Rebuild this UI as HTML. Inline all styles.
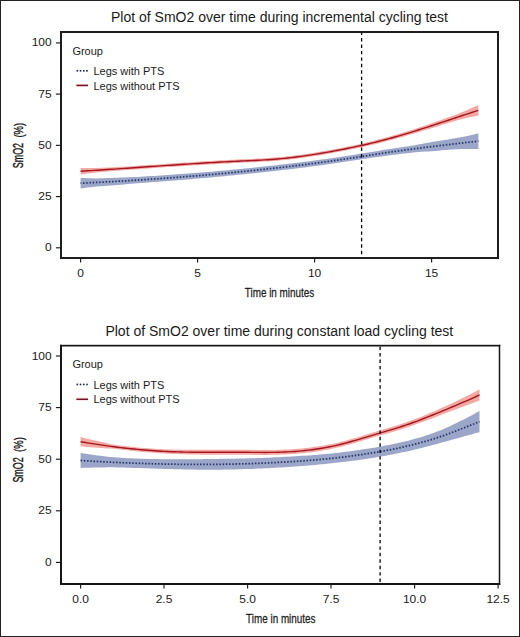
<!DOCTYPE html>
<html><head><meta charset="utf-8"><style>
html,body{margin:0;padding:0;background:#fff;}
svg{display:block;}
text{font-family:"Liberation Sans", sans-serif;fill:#1a1a1a;}
</style></head><body>
<svg width="520" height="637" viewBox="0 0 520 637">
<rect x="0" y="0" width="520" height="637" fill="#fff"/>
<path d="M80.60,177.93 L83.94,178.10 L87.29,178.24 L90.63,178.34 L93.97,178.39 L97.31,178.38 L100.66,178.31 L104.00,178.21 L107.34,178.09 L110.69,177.96 L114.03,177.83 L117.37,177.69 L120.71,177.57 L124.06,177.45 L127.40,177.33 L130.74,177.20 L134.09,177.05 L137.43,176.88 L140.77,176.70 L144.11,176.50 L147.46,176.30 L150.80,176.10 L154.14,175.88 L157.49,175.67 L160.83,175.44 L164.17,175.22 L167.51,174.99 L170.86,174.75 L174.20,174.51 L177.54,174.27 L180.89,174.03 L184.23,173.78 L187.57,173.53 L190.91,173.28 L194.26,173.02 L197.60,172.75 L200.94,172.49 L204.29,172.22 L207.63,171.94 L210.97,171.66 L214.31,171.38 L217.66,171.09 L221.00,170.79 L224.34,170.49 L227.69,170.19 L231.03,169.87 L234.37,169.56 L237.71,169.23 L241.06,168.90 L244.40,168.57 L247.74,168.23 L251.09,167.89 L254.43,167.54 L257.77,167.19 L261.11,166.84 L264.46,166.48 L267.80,166.12 L271.14,165.75 L274.49,165.38 L277.83,165.00 L281.17,164.62 L284.51,164.23 L287.86,163.84 L291.20,163.45 L294.54,163.05 L297.89,162.64 L301.23,162.23 L304.57,161.81 L307.91,161.39 L311.26,160.96 L314.60,160.52 L317.94,160.07 L321.29,159.62 L324.63,159.16 L327.97,158.70 L331.31,158.23 L334.66,157.74 L338.00,157.25 L341.34,156.75 L344.69,156.24 L348.03,155.72 L351.37,155.20 L354.71,154.66 L358.06,154.12 L361.40,153.58 L364.74,153.04 L368.09,152.50 L371.43,151.96 L374.77,151.42 L378.11,150.89 L381.46,150.36 L384.80,149.84 L388.14,149.31 L391.49,148.79 L394.83,148.27 L398.17,147.75 L401.51,147.23 L404.86,146.71 L408.20,146.18 L411.54,145.66 L414.89,145.13 L418.23,144.59 L421.57,143.98 L424.91,143.30 L428.26,142.63 L431.60,142.03 L434.94,141.47 L438.29,140.95 L441.63,140.43 L444.97,139.92 L448.31,139.40 L451.66,138.87 L455.00,138.31 L458.34,137.71 L461.69,137.06 L465.03,136.38 L468.37,135.67 L471.71,134.92 L475.06,134.16 L478.40,133.37 L478.40,148.97 L475.06,148.93 L471.71,148.90 L468.37,148.91 L465.03,148.95 L461.69,149.02 L458.34,149.14 L455.00,149.31 L451.66,149.53 L448.31,149.78 L444.97,150.05 L441.63,150.34 L438.29,150.63 L434.94,150.92 L431.60,151.19 L428.26,151.42 L424.91,151.59 L421.57,151.76 L418.23,152.01 L414.89,152.34 L411.54,152.69 L408.20,153.05 L404.86,153.43 L401.51,153.82 L398.17,154.22 L394.83,154.64 L391.49,155.07 L388.14,155.51 L384.80,155.96 L381.46,156.42 L378.11,156.89 L374.77,157.37 L371.43,157.86 L368.09,158.35 L364.74,158.85 L361.40,159.34 L358.06,159.85 L354.71,160.35 L351.37,160.85 L348.03,161.36 L344.69,161.86 L341.34,162.36 L338.00,162.85 L334.66,163.34 L331.31,163.83 L327.97,164.30 L324.63,164.76 L321.29,165.22 L317.94,165.67 L314.60,166.12 L311.26,166.56 L307.91,166.99 L304.57,167.41 L301.23,167.83 L297.89,168.24 L294.54,168.65 L291.20,169.05 L287.86,169.44 L284.51,169.83 L281.17,170.22 L277.83,170.60 L274.49,170.98 L271.14,171.35 L267.80,171.72 L264.46,172.08 L261.11,172.44 L257.77,172.79 L254.43,173.14 L251.09,173.49 L247.74,173.83 L244.40,174.17 L241.06,174.50 L237.71,174.83 L234.37,175.16 L231.03,175.48 L227.69,175.81 L224.34,176.13 L221.00,176.44 L217.66,176.76 L214.31,177.07 L210.97,177.38 L207.63,177.68 L204.29,177.99 L200.94,178.29 L197.60,178.58 L194.26,178.87 L190.91,179.16 L187.57,179.45 L184.23,179.73 L180.89,180.00 L177.54,180.28 L174.20,180.54 L170.86,180.81 L167.51,181.07 L164.17,181.32 L160.83,181.58 L157.49,181.83 L154.14,182.07 L150.80,182.32 L147.46,182.56 L144.11,182.81 L140.77,183.05 L137.43,183.29 L134.09,183.55 L130.74,183.82 L127.40,184.10 L124.06,184.38 L120.71,184.65 L117.37,184.92 L114.03,185.17 L110.69,185.41 L107.34,185.65 L104.00,185.90 L100.66,186.15 L97.31,186.43 L93.97,186.76 L90.63,187.14 L87.29,187.58 L83.94,188.04 L80.60,188.53Z" fill="#9ba6c9" stroke="none"/>
<path d="M80.60,167.92 L83.94,167.99 L87.29,168.04 L90.63,168.06 L93.97,168.04 L97.31,167.97 L100.66,167.85 L104.00,167.72 L107.34,167.58 L110.69,167.43 L114.03,167.25 L117.37,167.07 L120.71,166.87 L124.06,166.66 L127.40,166.46 L130.74,166.24 L134.09,166.03 L137.43,165.80 L140.77,165.57 L144.11,165.34 L147.46,165.11 L150.80,164.87 L154.14,164.64 L157.49,164.41 L160.83,164.18 L164.17,163.95 L167.51,163.72 L170.86,163.50 L174.20,163.27 L177.54,163.04 L180.89,162.82 L184.23,162.60 L187.57,162.38 L190.91,162.16 L194.26,161.95 L197.60,161.74 L200.94,161.53 L204.29,161.33 L207.63,161.12 L210.97,160.93 L214.31,160.73 L217.66,160.54 L221.00,160.36 L224.34,160.18 L227.69,160.00 L231.03,159.83 L234.37,159.67 L237.71,159.51 L241.06,159.35 L244.40,159.20 L247.74,159.05 L251.09,158.90 L254.43,158.74 L257.77,158.58 L261.11,158.40 L264.46,158.21 L267.80,158.01 L271.14,157.78 L274.49,157.54 L277.83,157.27 L281.17,156.97 L284.51,156.64 L287.86,156.29 L291.20,155.92 L294.54,155.52 L297.89,155.09 L301.23,154.65 L304.57,154.18 L307.91,153.69 L311.26,153.19 L314.60,152.66 L317.94,152.12 L321.29,151.56 L324.63,150.98 L327.97,150.39 L331.31,149.78 L334.66,149.17 L338.00,148.54 L341.34,147.89 L344.69,147.23 L348.03,146.56 L351.37,145.86 L354.71,145.15 L358.06,144.42 L361.40,143.67 L364.74,142.90 L368.09,142.11 L371.43,141.30 L374.77,140.47 L378.11,139.62 L381.46,138.75 L384.80,137.85 L388.14,136.93 L391.49,135.99 L394.83,135.03 L398.17,134.05 L401.51,133.05 L404.86,132.04 L408.20,131.00 L411.54,129.95 L414.89,128.88 L418.23,127.80 L421.57,126.70 L424.91,125.57 L428.26,124.43 L431.60,123.27 L434.94,122.10 L438.29,120.93 L441.63,119.75 L444.97,118.56 L448.31,117.37 L451.66,116.16 L455.00,114.93 L458.34,113.68 L461.69,112.36 L465.03,110.98 L468.37,109.55 L471.71,108.06 L475.06,106.54 L478.40,105.00 L478.40,115.60 L475.06,116.23 L471.71,116.90 L468.37,117.61 L465.03,118.37 L461.69,119.20 L458.34,120.11 L455.00,121.07 L451.66,122.07 L448.31,123.07 L444.97,124.09 L441.63,125.12 L438.29,126.14 L434.94,127.16 L431.60,128.17 L428.26,129.18 L424.91,130.19 L421.57,131.20 L418.23,132.21 L414.89,133.22 L411.54,134.22 L408.20,135.21 L404.86,136.18 L401.51,137.15 L398.17,138.10 L394.83,139.03 L391.49,139.95 L388.14,140.85 L384.80,141.73 L381.46,142.59 L378.11,143.42 L374.77,144.23 L371.43,145.02 L368.09,145.78 L364.74,146.53 L361.40,147.25 L358.06,147.96 L354.71,148.65 L351.37,149.33 L348.03,150.00 L344.69,150.65 L341.34,151.30 L338.00,151.94 L334.66,152.57 L331.31,153.18 L327.97,153.79 L324.63,154.38 L321.29,154.96 L317.94,155.52 L314.60,156.06 L311.26,156.59 L307.91,157.09 L304.57,157.58 L301.23,158.05 L297.89,158.49 L294.54,158.92 L291.20,159.32 L287.86,159.69 L284.51,160.04 L281.17,160.37 L277.83,160.67 L274.49,160.94 L271.14,161.18 L267.80,161.41 L264.46,161.61 L261.11,161.80 L257.77,161.98 L254.43,162.14 L251.09,162.30 L247.74,162.45 L244.40,162.60 L241.06,162.75 L237.71,162.91 L234.37,163.07 L231.03,163.23 L227.69,163.40 L224.34,163.58 L221.00,163.76 L217.66,163.94 L214.31,164.13 L210.97,164.33 L207.63,164.52 L204.29,164.73 L200.94,164.93 L197.60,165.14 L194.26,165.35 L190.91,165.56 L187.57,165.78 L184.23,166.00 L180.89,166.22 L177.54,166.44 L174.20,166.67 L170.86,166.90 L167.51,167.12 L164.17,167.35 L160.83,167.58 L157.49,167.81 L154.14,168.04 L150.80,168.27 L147.46,168.51 L144.11,168.74 L140.77,168.97 L137.43,169.20 L134.09,169.44 L130.74,169.68 L127.40,169.92 L124.06,170.17 L120.71,170.42 L117.37,170.68 L114.03,170.94 L110.69,171.21 L107.34,171.50 L104.00,171.79 L100.66,172.10 L97.31,172.41 L93.97,172.76 L90.63,173.16 L87.29,173.59 L83.94,174.05 L80.60,174.52Z" fill="#f3a8a2" stroke="none"/>
<path d="M80.60,171.22 L83.94,171.02 L87.29,170.81 L90.63,170.61 L93.97,170.40 L97.31,170.19 L100.66,169.97 L104.00,169.76 L107.34,169.54 L110.69,169.32 L114.03,169.10 L117.37,168.87 L120.71,168.65 L124.06,168.42 L127.40,168.19 L130.74,167.96 L134.09,167.73 L137.43,167.50 L140.77,167.27 L144.11,167.04 L147.46,166.81 L150.80,166.57 L154.14,166.34 L157.49,166.11 L160.83,165.88 L164.17,165.65 L167.51,165.42 L170.86,165.20 L174.20,164.97 L177.54,164.74 L180.89,164.52 L184.23,164.30 L187.57,164.08 L190.91,163.86 L194.26,163.65 L197.60,163.44 L200.94,163.23 L204.29,163.03 L207.63,162.82 L210.97,162.63 L214.31,162.43 L217.66,162.24 L221.00,162.06 L224.34,161.88 L227.69,161.70 L231.03,161.53 L234.37,161.37 L237.71,161.21 L241.06,161.05 L244.40,160.90 L247.74,160.75 L251.09,160.60 L254.43,160.44 L257.77,160.28 L261.11,160.10 L264.46,159.91 L267.80,159.71 L271.14,159.48 L274.49,159.24 L277.83,158.97 L281.17,158.67 L284.51,158.34 L287.86,157.99 L291.20,157.62 L294.54,157.22 L297.89,156.79 L301.23,156.35 L304.57,155.88 L307.91,155.39 L311.26,154.89 L314.60,154.36 L317.94,153.82 L321.29,153.26 L324.63,152.68 L327.97,152.09 L331.31,151.48 L334.66,150.87 L338.00,150.24 L341.34,149.60 L344.69,148.94 L348.03,148.28 L351.37,147.60 L354.71,146.90 L358.06,146.19 L361.40,145.46 L364.74,144.71 L368.09,143.95 L371.43,143.16 L374.77,142.35 L378.11,141.52 L381.46,140.67 L384.80,139.79 L388.14,138.89 L391.49,137.97 L394.83,137.03 L398.17,136.07 L401.51,135.10 L404.86,134.11 L408.20,133.10 L411.54,132.08 L414.89,131.05 L418.23,130.00 L421.57,128.95 L424.91,127.88 L428.26,126.81 L431.60,125.72 L434.94,124.63 L438.29,123.54 L441.63,122.43 L444.97,121.33 L448.31,120.22 L451.66,119.11 L455.00,118.00 L458.34,116.89 L461.69,115.78 L465.03,114.68 L468.37,113.58 L471.71,112.48 L475.06,111.39 L478.40,110.30" fill="none" stroke="#a31622" stroke-width="1.4"/>
<path d="M80.60,183.23 L83.94,183.07 L87.29,182.91 L90.63,182.74 L93.97,182.58 L97.31,182.40 L100.66,182.23 L104.00,182.05 L107.34,181.87 L110.69,181.69 L114.03,181.50 L117.37,181.31 L120.71,181.11 L124.06,180.91 L127.40,180.71 L130.74,180.51 L134.09,180.30 L137.43,180.09 L140.77,179.87 L144.11,179.66 L147.46,179.43 L150.80,179.21 L154.14,178.98 L157.49,178.75 L160.83,178.51 L164.17,178.27 L167.51,178.03 L170.86,177.78 L174.20,177.53 L177.54,177.27 L180.89,177.02 L184.23,176.75 L187.57,176.49 L190.91,176.22 L194.26,175.95 L197.60,175.67 L200.94,175.39 L204.29,175.10 L207.63,174.81 L210.97,174.52 L214.31,174.22 L217.66,173.92 L221.00,173.62 L224.34,173.31 L227.69,173.00 L231.03,172.68 L234.37,172.36 L237.71,172.03 L241.06,171.70 L244.40,171.37 L247.74,171.03 L251.09,170.69 L254.43,170.34 L257.77,169.99 L261.11,169.64 L264.46,169.28 L267.80,168.92 L271.14,168.55 L274.49,168.18 L277.83,167.80 L281.17,167.42 L284.51,167.03 L287.86,166.64 L291.20,166.25 L294.54,165.85 L297.89,165.44 L301.23,165.03 L304.57,164.61 L307.91,164.19 L311.26,163.76 L314.60,163.32 L317.94,162.87 L321.29,162.42 L324.63,161.96 L327.97,161.50 L331.31,161.03 L334.66,160.54 L338.00,160.05 L341.34,159.56 L344.69,159.05 L348.03,158.54 L351.37,158.02 L354.71,157.51 L358.06,156.99 L361.40,156.46 L364.74,155.94 L368.09,155.42 L371.43,154.91 L374.77,154.40 L378.11,153.89 L381.46,153.39 L384.80,152.90 L388.14,152.41 L391.49,151.93 L394.83,151.46 L398.17,150.99 L401.51,150.53 L404.86,150.07 L408.20,149.62 L411.54,149.17 L414.89,148.73 L418.23,148.30 L421.57,147.87 L424.91,147.44 L428.26,147.02 L431.60,146.61 L434.94,146.20 L438.29,145.79 L441.63,145.39 L444.97,144.99 L448.31,144.59 L451.66,144.20 L455.00,143.81 L458.34,143.42 L461.69,143.04 L465.03,142.66 L468.37,142.29 L471.71,141.91 L475.06,141.54 L478.40,141.17" fill="none" stroke="#243668" stroke-width="1.75" stroke-dasharray="1.5 1.73" stroke-dashoffset="0.8"/>
<line x1="361.6" y1="31.6" x2="361.6" y2="258" stroke="#000" stroke-width="1.3" stroke-dasharray="3.4 3.045"/>
<rect x="60.0" y="31.0" width="2" height="228.0" fill="#1e1e1e"/>
<rect x="497.0" y="31.0" width="2" height="228.0" fill="#1e1e1e"/>
<rect x="60.0" y="31.0" width="439.0" height="2" fill="#1e1e1e"/>
<rect x="60.0" y="257.0" width="439.0" height="2" fill="#1e1e1e"/>
<line x1="55.9" y1="247.8" x2="61" y2="247.8" stroke="#1a1a1a" stroke-width="1.15"/>
<text transform="translate(51.6,251.35000000000002) scale(1.06,1)" text-anchor="end" font-size="11.3">0</text>
<line x1="55.9" y1="196.6" x2="61" y2="196.6" stroke="#1a1a1a" stroke-width="1.15"/>
<text transform="translate(51.6,200.15) scale(1.06,1)" text-anchor="end" font-size="11.3">25</text>
<line x1="55.9" y1="145.35" x2="61" y2="145.35" stroke="#1a1a1a" stroke-width="1.15"/>
<text transform="translate(51.6,148.9) scale(1.06,1)" text-anchor="end" font-size="11.3">50</text>
<line x1="55.9" y1="94.1" x2="61" y2="94.1" stroke="#1a1a1a" stroke-width="1.15"/>
<text transform="translate(51.6,97.64999999999999) scale(1.06,1)" text-anchor="end" font-size="11.3">75</text>
<line x1="55.9" y1="42.9" x2="61" y2="42.9" stroke="#1a1a1a" stroke-width="1.15"/>
<text transform="translate(51.6,46.449999999999996) scale(1.06,1)" text-anchor="end" font-size="11.3">100</text>
<line x1="80.6" y1="258" x2="80.6" y2="262.6" stroke="#1a1a1a" stroke-width="1.15"/>
<text transform="translate(80.6,277.1) scale(1.06,1)" text-anchor="middle" font-size="11.3">0</text>
<line x1="197.6" y1="258" x2="197.6" y2="262.6" stroke="#1a1a1a" stroke-width="1.15"/>
<text transform="translate(197.6,277.1) scale(1.06,1)" text-anchor="middle" font-size="11.3">5</text>
<line x1="314.6" y1="258" x2="314.6" y2="262.6" stroke="#1a1a1a" stroke-width="1.15"/>
<text transform="translate(314.6,277.1) scale(1.06,1)" text-anchor="middle" font-size="11.3">10</text>
<line x1="431.6" y1="258" x2="431.6" y2="262.6" stroke="#1a1a1a" stroke-width="1.15"/>
<text transform="translate(431.6,277.1) scale(1.06,1)" text-anchor="middle" font-size="11.3">15</text>
<text x="279.5" y="22.2" text-anchor="middle" font-size="14">Plot of SmO2 over time during incremental cycling test</text>
<text transform="translate(279.5,296.8) scale(0.75,1)" text-anchor="middle" font-size="13.2" stroke="#222" stroke-width="0.25">Time in minutes</text>
<text transform="translate(22.6,168.29999999999998) rotate(-90) scale(0.64,1)" font-size="14" stroke="#111" stroke-width="0.35">SmO2</text>
<text transform="translate(22.6,137.6) rotate(-90) scale(0.72,1)" font-size="13.2" stroke="#111" stroke-width="0.35">(%)</text>
<text x="72.4" y="54.5" font-size="11">Group</text>
<rect x="76.50" y="70.00" width="1.6" height="1.6" fill="#1c2440"/>
<rect x="79.73" y="70.00" width="1.6" height="1.6" fill="#1c2440"/>
<rect x="82.96" y="70.00" width="1.6" height="1.6" fill="#1c2440"/>
<rect x="86.19" y="70.00" width="1.6" height="1.6" fill="#1c2440"/>
<text x="93.4" y="74.9" font-size="11">Legs with PTS</text>
<line x1="76.2" y1="85.25" x2="88.2" y2="85.25" stroke="#f6c2c4" stroke-width="2.6"/>
<line x1="76.4" y1="85.45" x2="88.0" y2="85.45" stroke="#6e1430" stroke-width="1.35"/>
<text x="93.4" y="89.5" font-size="11">Legs without PTS</text>
<path d="M80.60,452.99 L83.95,453.53 L87.30,454.04 L90.66,454.54 L94.01,455.00 L97.36,455.43 L100.71,455.84 L104.06,456.25 L107.42,456.64 L110.77,457.00 L114.12,457.32 L117.47,457.57 L120.83,457.77 L124.18,457.97 L127.53,458.15 L130.88,458.31 L134.23,458.46 L137.59,458.59 L140.94,458.70 L144.29,458.80 L147.64,458.89 L150.99,458.96 L154.35,459.03 L157.70,459.08 L161.05,459.13 L164.40,459.17 L167.75,459.20 L171.11,459.23 L174.46,459.25 L177.81,459.27 L181.16,459.28 L184.52,459.27 L187.87,459.26 L191.22,459.24 L194.57,459.20 L197.92,459.17 L201.28,459.13 L204.63,459.08 L207.98,459.04 L211.33,458.99 L214.68,458.95 L218.04,458.91 L221.39,458.87 L224.74,458.82 L228.09,458.77 L231.44,458.71 L234.80,458.65 L238.15,458.58 L241.50,458.51 L244.85,458.42 L248.21,458.33 L251.56,458.24 L254.91,458.13 L258.26,458.02 L261.61,457.90 L264.97,457.77 L268.32,457.64 L271.67,457.50 L275.02,457.36 L278.37,457.20 L281.73,457.04 L285.08,456.87 L288.43,456.69 L291.78,456.50 L295.13,456.30 L298.49,456.09 L301.84,455.87 L305.19,455.65 L308.54,455.41 L311.89,455.16 L315.25,454.90 L318.60,454.63 L321.95,454.34 L325.30,454.04 L328.66,453.72 L332.01,453.39 L335.36,453.03 L338.71,452.66 L342.06,452.27 L345.42,451.86 L348.77,451.44 L352.12,450.99 L355.47,450.54 L358.82,450.06 L362.18,449.56 L365.53,449.05 L368.88,448.52 L372.23,447.97 L375.58,447.40 L378.94,446.81 L382.29,446.21 L385.64,445.57 L388.99,444.92 L392.35,444.23 L395.70,443.52 L399.05,442.78 L402.40,442.01 L405.75,441.21 L409.11,440.38 L412.46,439.51 L415.81,438.60 L419.16,437.66 L422.51,436.65 L425.87,435.59 L429.22,434.46 L432.57,433.28 L435.92,432.04 L439.27,430.75 L442.63,429.39 L445.98,427.94 L449.33,426.42 L452.68,424.85 L456.04,423.24 L459.39,421.60 L462.74,419.91 L466.09,418.19 L469.44,416.43 L472.80,414.65 L476.15,412.84 L479.50,411.01 L479.50,432.21 L476.15,433.09 L472.80,433.99 L469.44,434.91 L466.09,435.83 L462.74,436.77 L459.39,437.71 L456.04,438.65 L452.68,439.58 L449.33,440.50 L445.98,441.41 L442.63,442.33 L439.27,443.27 L435.92,444.19 L432.57,445.09 L429.22,445.96 L425.87,446.82 L422.51,447.66 L419.16,448.50 L415.81,449.33 L412.46,450.13 L409.11,450.90 L405.75,451.65 L402.40,452.37 L399.05,453.07 L395.70,453.75 L392.35,454.40 L388.99,455.04 L385.64,455.65 L382.29,456.24 L378.94,456.82 L375.58,457.38 L372.23,457.93 L368.88,458.45 L365.53,458.96 L362.18,459.45 L358.82,459.92 L355.47,460.38 L352.12,460.83 L348.77,461.26 L345.42,461.67 L342.06,462.07 L338.71,462.46 L335.36,462.84 L332.01,463.20 L328.66,463.56 L325.30,463.91 L321.95,464.24 L318.60,464.57 L315.25,464.89 L311.89,465.19 L308.54,465.48 L305.19,465.76 L301.84,466.03 L298.49,466.29 L295.13,466.53 L291.78,466.77 L288.43,466.99 L285.08,467.21 L281.73,467.42 L278.37,467.61 L275.02,467.80 L271.67,467.99 L268.32,468.16 L264.97,468.32 L261.61,468.47 L258.26,468.62 L254.91,468.75 L251.56,468.88 L248.21,469.00 L244.85,469.11 L241.50,469.22 L238.15,469.32 L234.80,469.40 L231.44,469.48 L228.09,469.55 L224.74,469.61 L221.39,469.67 L218.04,469.71 L214.68,469.74 L211.33,469.75 L207.98,469.74 L204.63,469.73 L201.28,469.69 L197.92,469.65 L194.57,469.60 L191.22,469.54 L187.87,469.48 L184.52,469.41 L181.16,469.34 L177.81,469.26 L174.46,469.19 L171.11,469.10 L167.75,469.01 L164.40,468.91 L161.05,468.80 L157.70,468.69 L154.35,468.58 L150.99,468.46 L147.64,468.34 L144.29,468.22 L140.94,468.11 L137.59,467.99 L134.23,467.88 L130.88,467.77 L127.53,467.67 L124.18,467.58 L120.83,467.48 L117.47,467.39 L114.12,467.34 L110.77,467.33 L107.42,467.36 L104.06,467.41 L100.71,467.47 L97.36,467.52 L94.01,467.58 L90.66,467.66 L87.30,467.76 L83.95,467.87 L80.60,467.99Z" fill="#9ba6c9" stroke="none"/>
<path d="M80.60,437.10 L83.95,437.94 L87.30,438.75 L90.66,439.55 L94.01,440.32 L97.36,441.08 L100.71,441.83 L104.06,442.60 L107.42,443.36 L110.77,444.06 L114.12,444.69 L117.47,445.19 L120.83,445.60 L124.18,445.99 L127.53,446.37 L130.88,446.73 L134.23,447.07 L137.59,447.39 L140.94,447.70 L144.29,447.98 L147.64,448.25 L150.99,448.49 L154.35,448.71 L157.70,448.91 L161.05,449.09 L164.40,449.26 L167.75,449.40 L171.11,449.52 L174.46,449.63 L177.81,449.72 L181.16,449.79 L184.52,449.83 L187.87,449.86 L191.22,449.87 L194.57,449.87 L197.92,449.85 L201.28,449.83 L204.63,449.81 L207.98,449.78 L211.33,449.75 L214.68,449.73 L218.04,449.71 L221.39,449.70 L224.74,449.69 L228.09,449.69 L231.44,449.69 L234.80,449.70 L238.15,449.71 L241.50,449.74 L244.85,449.77 L248.21,449.81 L251.56,449.84 L254.91,449.88 L258.26,449.91 L261.61,449.93 L264.97,449.94 L268.32,449.94 L271.67,449.92 L275.02,449.88 L278.37,449.81 L281.73,449.72 L285.08,449.60 L288.43,449.44 L291.78,449.25 L295.13,449.02 L298.49,448.76 L301.84,448.46 L305.19,448.12 L308.54,447.74 L311.89,447.32 L315.25,446.86 L318.60,446.36 L321.95,445.82 L325.30,445.23 L328.66,444.59 L332.01,443.91 L335.36,443.18 L338.71,442.40 L342.06,441.57 L345.42,440.70 L348.77,439.79 L352.12,438.85 L355.47,437.88 L358.82,436.89 L362.18,435.88 L365.53,434.86 L368.88,433.84 L372.23,432.82 L375.58,431.81 L378.94,430.81 L382.29,429.82 L385.64,428.83 L388.99,427.84 L392.35,426.83 L395.70,425.79 L399.05,424.72 L402.40,423.61 L405.75,422.46 L409.11,421.27 L412.46,420.05 L415.81,418.79 L419.16,417.49 L422.51,416.14 L425.87,414.75 L429.22,413.33 L432.57,411.88 L435.92,410.41 L439.27,408.94 L442.63,407.46 L445.98,405.96 L449.33,404.44 L452.68,402.91 L456.04,401.34 L459.39,399.75 L462.74,398.12 L466.09,396.44 L469.44,394.72 L472.80,392.95 L476.15,391.14 L479.50,389.29 L479.50,400.59 L476.15,401.85 L472.80,403.10 L469.44,404.35 L466.09,405.59 L462.74,406.83 L459.39,408.09 L456.04,409.34 L452.68,410.59 L449.33,411.85 L445.98,413.10 L442.63,414.36 L439.27,415.62 L435.92,416.89 L432.57,418.15 L429.22,419.40 L425.87,420.65 L422.51,421.89 L419.16,423.12 L415.81,424.33 L412.46,425.52 L409.11,426.67 L405.75,427.79 L402.40,428.88 L399.05,429.94 L395.70,430.96 L392.35,431.95 L388.99,432.92 L385.64,433.88 L382.29,434.84 L378.94,435.81 L375.58,436.80 L372.23,437.80 L368.88,438.80 L365.53,439.81 L362.18,440.81 L358.82,441.81 L355.47,442.78 L352.12,443.74 L348.77,444.67 L345.42,445.57 L342.06,446.44 L338.71,447.25 L335.36,448.03 L332.01,448.75 L328.66,449.42 L325.30,450.05 L321.95,450.64 L318.60,451.18 L315.25,451.67 L311.89,452.13 L308.54,452.54 L305.19,452.92 L301.84,453.26 L298.49,453.56 L295.13,453.83 L291.78,454.06 L288.43,454.27 L285.08,454.45 L281.73,454.59 L278.37,454.71 L275.02,454.80 L271.67,454.86 L268.32,454.90 L264.97,454.92 L261.61,454.92 L258.26,454.91 L254.91,454.88 L251.56,454.84 L248.21,454.81 L244.85,454.77 L241.50,454.74 L238.15,454.71 L234.80,454.70 L231.44,454.69 L228.09,454.69 L224.74,454.69 L221.39,454.70 L218.04,454.71 L214.68,454.72 L211.33,454.72 L207.98,454.71 L204.63,454.69 L201.28,454.66 L197.92,454.61 L194.57,454.56 L191.22,454.50 L187.87,454.42 L184.52,454.33 L181.16,454.23 L177.81,454.12 L174.46,453.99 L171.11,453.84 L167.75,453.67 L164.40,453.48 L161.05,453.27 L157.70,453.05 L154.35,452.81 L150.99,452.55 L147.64,452.28 L144.29,452.00 L140.94,451.70 L137.59,451.39 L134.23,451.07 L130.88,450.73 L127.53,450.37 L124.18,449.99 L120.83,449.60 L117.47,449.20 L114.12,448.86 L110.77,448.60 L107.42,448.40 L104.06,448.22 L100.71,448.02 L97.36,447.77 L94.01,447.49 L90.66,447.20 L87.30,446.91 L83.95,446.61 L80.60,446.30Z" fill="#f3a8a2" stroke="none"/>
<path d="M80.60,441.70 L83.95,442.27 L87.30,442.83 L90.66,443.38 L94.01,443.91 L97.36,444.42 L100.71,444.92 L104.06,445.41 L107.42,445.88 L110.77,446.33 L114.12,446.77 L117.47,447.20 L120.83,447.60 L124.18,447.99 L127.53,448.37 L130.88,448.73 L134.23,449.07 L137.59,449.39 L140.94,449.70 L144.29,449.99 L147.64,450.27 L150.99,450.52 L154.35,450.76 L157.70,450.98 L161.05,451.18 L164.40,451.37 L167.75,451.53 L171.11,451.68 L174.46,451.81 L177.81,451.92 L181.16,452.01 L184.52,452.08 L187.87,452.14 L191.22,452.18 L194.57,452.21 L197.92,452.23 L201.28,452.24 L204.63,452.25 L207.98,452.24 L211.33,452.24 L214.68,452.23 L218.04,452.21 L221.39,452.20 L224.74,452.19 L228.09,452.19 L231.44,452.19 L234.80,452.20 L238.15,452.21 L241.50,452.24 L244.85,452.27 L248.21,452.31 L251.56,452.34 L254.91,452.38 L258.26,452.41 L261.61,452.42 L264.97,452.43 L268.32,452.42 L271.67,452.39 L275.02,452.34 L278.37,452.26 L281.73,452.16 L285.08,452.02 L288.43,451.86 L291.78,451.66 L295.13,451.43 L298.49,451.16 L301.84,450.86 L305.19,450.52 L308.54,450.14 L311.89,449.73 L315.25,449.27 L318.60,448.77 L321.95,448.23 L325.30,447.64 L328.66,447.01 L332.01,446.33 L335.36,445.60 L338.71,444.83 L342.06,444.00 L345.42,443.14 L348.77,442.23 L352.12,441.29 L355.47,440.33 L358.82,439.35 L362.18,438.35 L365.53,437.34 L368.88,436.32 L372.23,435.31 L375.58,434.30 L378.94,433.31 L382.29,432.33 L385.64,431.36 L388.99,430.38 L392.35,429.39 L395.70,428.37 L399.05,427.33 L402.40,426.25 L405.75,425.13 L409.11,423.97 L412.46,422.78 L415.81,421.56 L419.16,420.30 L422.51,419.01 L425.87,417.70 L429.22,416.36 L432.57,415.01 L435.92,413.65 L439.27,412.28 L442.63,410.91 L445.98,409.53 L449.33,408.15 L452.68,406.75 L456.04,405.34 L459.39,403.92 L462.74,402.48 L466.09,401.02 L469.44,399.53 L472.80,398.03 L476.15,396.50 L479.50,394.94" fill="none" stroke="#a31622" stroke-width="1.4"/>
<path d="M80.60,460.49 L83.95,460.70 L87.30,460.90 L90.66,461.10 L94.01,461.29 L97.36,461.47 L100.71,461.65 L104.06,461.83 L107.42,462.00 L110.77,462.17 L114.12,462.33 L117.47,462.48 L120.83,462.63 L124.18,462.77 L127.53,462.91 L130.88,463.04 L134.23,463.17 L137.59,463.29 L140.94,463.40 L144.29,463.51 L147.64,463.62 L150.99,463.71 L154.35,463.80 L157.70,463.89 L161.05,463.97 L164.40,464.04 L167.75,464.11 L171.11,464.17 L174.46,464.22 L177.81,464.27 L181.16,464.31 L184.52,464.34 L187.87,464.37 L191.22,464.39 L194.57,464.40 L197.92,464.41 L201.28,464.41 L204.63,464.40 L207.98,464.39 L211.33,464.37 L214.68,464.34 L218.04,464.31 L221.39,464.27 L224.74,464.22 L228.09,464.16 L231.44,464.10 L234.80,464.03 L238.15,463.95 L241.50,463.86 L244.85,463.77 L248.21,463.67 L251.56,463.56 L254.91,463.44 L258.26,463.32 L261.61,463.19 L264.97,463.05 L268.32,462.90 L271.67,462.74 L275.02,462.58 L278.37,462.41 L281.73,462.23 L285.08,462.04 L288.43,461.84 L291.78,461.63 L295.13,461.42 L298.49,461.19 L301.84,460.95 L305.19,460.71 L308.54,460.45 L311.89,460.18 L315.25,459.89 L318.60,459.60 L321.95,459.29 L325.30,458.97 L328.66,458.64 L332.01,458.29 L335.36,457.93 L338.71,457.56 L342.06,457.17 L345.42,456.77 L348.77,456.35 L352.12,455.91 L355.47,455.46 L358.82,454.99 L362.18,454.51 L365.53,454.00 L368.88,453.48 L372.23,452.95 L375.58,452.39 L378.94,451.82 L382.29,451.22 L385.64,450.61 L388.99,449.98 L392.35,449.32 L395.70,448.63 L399.05,447.93 L402.40,447.19 L405.75,446.43 L409.11,445.64 L412.46,444.82 L415.81,443.96 L419.16,443.08 L422.51,442.16 L425.87,441.20 L429.22,440.21 L432.57,439.18 L435.92,438.12 L439.27,437.01 L442.63,435.86 L445.98,434.68 L449.33,433.46 L452.68,432.22 L456.04,430.95 L459.39,429.65 L462.74,428.34 L466.09,427.01 L469.44,425.67 L472.80,424.32 L476.15,422.96 L479.50,421.61" fill="none" stroke="#243668" stroke-width="1.75" stroke-dasharray="1.5 1.73" stroke-dashoffset="0.0"/>
<line x1="380.1" y1="346.6" x2="380.1" y2="584" stroke="#000" stroke-width="1.3" stroke-dasharray="3.4 3.045"/>
<rect x="60.0" y="344.79999999999995" width="2" height="240.20000000000002" fill="#161616"/>
<rect x="498.75" y="344.79999999999995" width="1.5" height="240.20000000000002" fill="#161616"/>
<rect x="60.0" y="344.79999999999995" width="440.25" height="1.7" fill="#161616"/>
<rect x="60.0" y="583.0" width="440.25" height="2" fill="#161616"/>
<line x1="55.9" y1="562.4" x2="61" y2="562.4" stroke="#1a1a1a" stroke-width="1.15"/>
<text transform="translate(51.6,565.9499999999999) scale(1.06,1)" text-anchor="end" font-size="11.3">0</text>
<line x1="55.9" y1="510.8" x2="61" y2="510.8" stroke="#1a1a1a" stroke-width="1.15"/>
<text transform="translate(51.6,514.35) scale(1.06,1)" text-anchor="end" font-size="11.3">25</text>
<line x1="55.9" y1="459.2" x2="61" y2="459.2" stroke="#1a1a1a" stroke-width="1.15"/>
<text transform="translate(51.6,462.75) scale(1.06,1)" text-anchor="end" font-size="11.3">50</text>
<line x1="55.9" y1="407.6" x2="61" y2="407.6" stroke="#1a1a1a" stroke-width="1.15"/>
<text transform="translate(51.6,411.15000000000003) scale(1.06,1)" text-anchor="end" font-size="11.3">75</text>
<line x1="55.9" y1="356.0" x2="61" y2="356.0" stroke="#1a1a1a" stroke-width="1.15"/>
<text transform="translate(51.6,359.55) scale(1.06,1)" text-anchor="end" font-size="11.3">100</text>
<line x1="80.6" y1="584" x2="80.6" y2="588.6" stroke="#1a1a1a" stroke-width="1.15"/>
<text transform="translate(80.6,603.35) scale(1.06,1)" text-anchor="middle" font-size="11.3">0.0</text>
<line x1="164.0" y1="584" x2="164.0" y2="588.6" stroke="#1a1a1a" stroke-width="1.15"/>
<text transform="translate(164.0,603.35) scale(1.06,1)" text-anchor="middle" font-size="11.3">2.5</text>
<line x1="247.6" y1="584" x2="247.6" y2="588.6" stroke="#1a1a1a" stroke-width="1.15"/>
<text transform="translate(247.6,603.35) scale(1.06,1)" text-anchor="middle" font-size="11.3">5.0</text>
<line x1="331.0" y1="584" x2="331.0" y2="588.6" stroke="#1a1a1a" stroke-width="1.15"/>
<text transform="translate(331.0,603.35) scale(1.06,1)" text-anchor="middle" font-size="11.3">7.5</text>
<line x1="414.6" y1="584" x2="414.6" y2="588.6" stroke="#1a1a1a" stroke-width="1.15"/>
<text transform="translate(414.6,603.35) scale(1.06,1)" text-anchor="middle" font-size="11.3">10.0</text>
<line x1="498.1" y1="584" x2="498.1" y2="588.6" stroke="#1a1a1a" stroke-width="1.15"/>
<text transform="translate(498.1,603.35) scale(1.06,1)" text-anchor="middle" font-size="11.3">12.5</text>
<text x="279.35" y="336.1" text-anchor="middle" font-size="14">Plot of SmO2 over time during constant load cycling test</text>
<text transform="translate(280.8,622.9) scale(0.75,1)" text-anchor="middle" font-size="13.2" stroke="#222" stroke-width="0.25">Time in minutes</text>
<text transform="translate(22.6,482.59999999999997) rotate(-90) scale(0.64,1)" font-size="14" stroke="#111" stroke-width="0.35">SmO2</text>
<text transform="translate(22.6,451.9) rotate(-90) scale(0.72,1)" font-size="13.2" stroke="#111" stroke-width="0.35">(%)</text>
<text x="72.4" y="368.15" font-size="11">Group</text>
<rect x="76.50" y="383.65" width="1.6" height="1.6" fill="#1c2440"/>
<rect x="79.73" y="383.65" width="1.6" height="1.6" fill="#1c2440"/>
<rect x="82.96" y="383.65" width="1.6" height="1.6" fill="#1c2440"/>
<rect x="86.19" y="383.65" width="1.6" height="1.6" fill="#1c2440"/>
<text x="93.4" y="388.54999999999995" font-size="11">Legs with PTS</text>
<line x1="76.2" y1="399.1" x2="88.2" y2="399.1" stroke="#f6c2c4" stroke-width="2.6"/>
<line x1="76.4" y1="399.3" x2="88.0" y2="399.3" stroke="#6e1430" stroke-width="1.35"/>
<text x="93.4" y="403.15" font-size="11">Legs without PTS</text>
<rect x="0.5" y="0.5" width="519" height="636" fill="none" stroke="#222" stroke-width="1"/>
</svg>
</body></html>
